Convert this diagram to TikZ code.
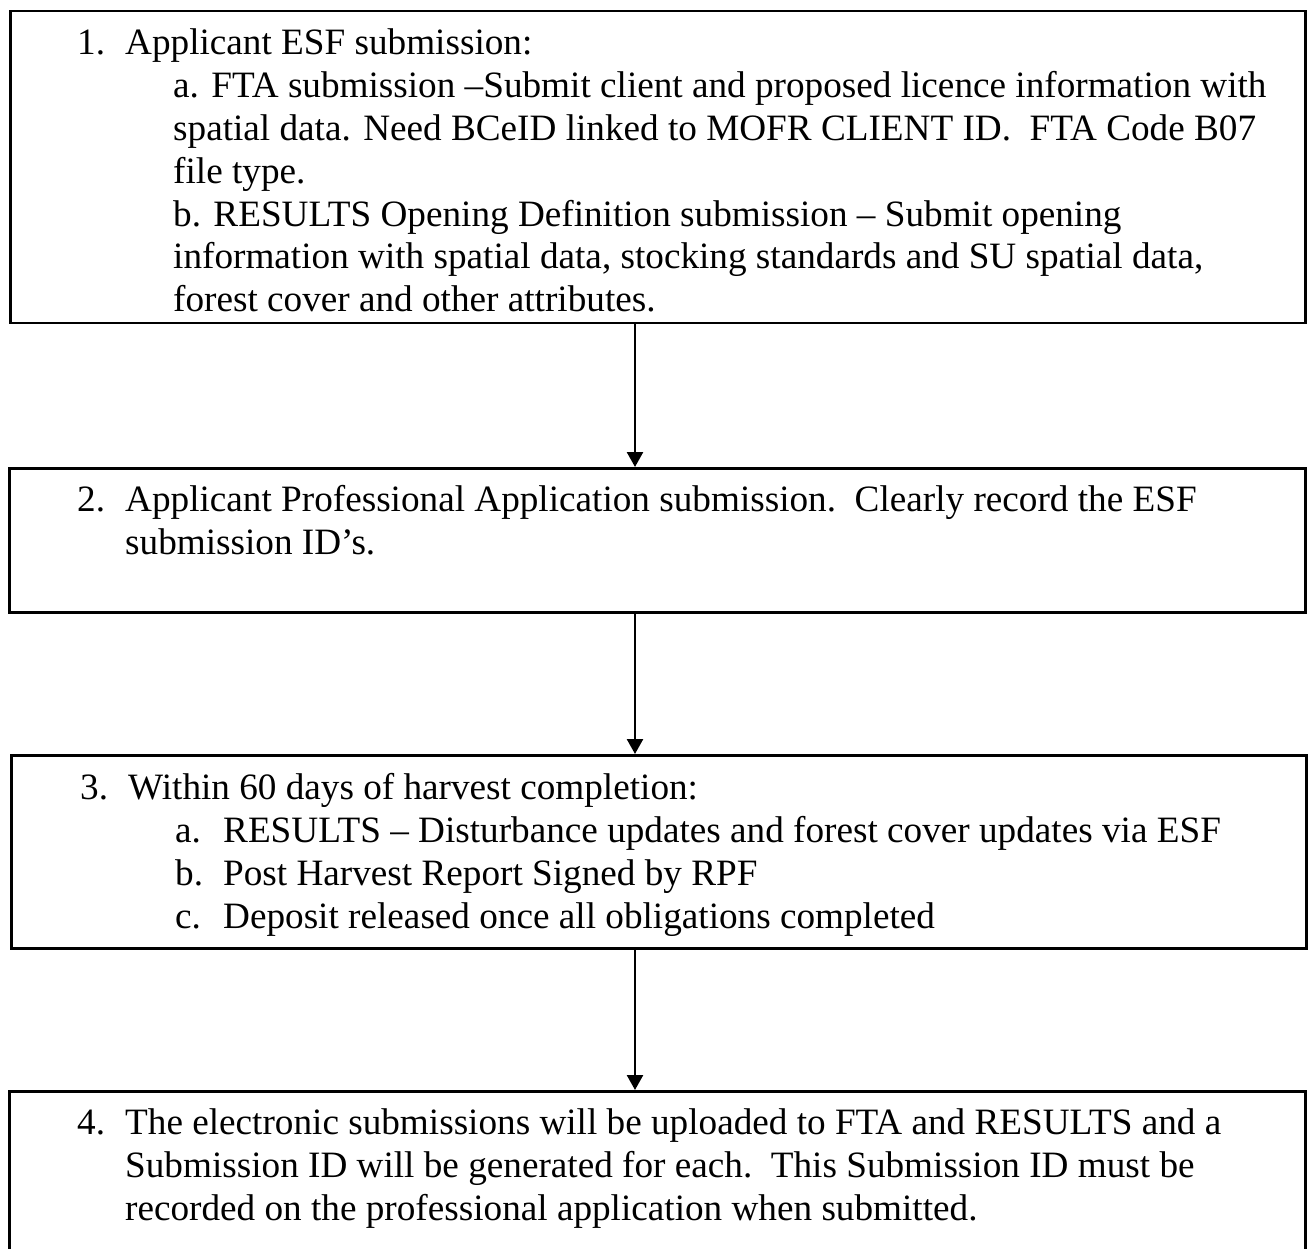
\documentclass[tikz,border=0pt]{standalone}
\usepackage{fontspec}
\setmainfont{Liberation Serif}[Ligatures={NoCommon}]
\usetikzlibrary{arrows.meta}
\tikzset{
  box/.style={draw, line width=2.5pt, inner sep=0pt, anchor=north west},
  txt/.style={anchor=base west, inner sep=0pt, font=\fontsize{37.2}{42.8}\selectfont},
  arr/.style={line width=2.5pt, -{Triangle[width=16pt,length=15pt]}},
}
\begin{document}
\begin{tikzpicture}[x=1pt,y=-1pt]
\useasboundingbox (0,0) rectangle (1310,1249);
\fill[white] (0,0) rectangle (1310,1249);
\clip (0,0) rectangle (1310,1249);
% boxes
\node[box, minimum width=1295pt, minimum height=312pt] (b1) at (9,10) {};
\node[box, minimum width=1296pt, minimum height=144pt] (b2) at (8,467) {};
\node[box, minimum width=1295pt, minimum height=193pt] (b3) at (10,754) {};
\node[box, minimum width=1296pt, minimum height=175pt] (b4) at (8,1090) {};
% arrow axis
\coordinate (ax) at (635,0);
\draw[arr] (b1.south -| ax) -- (b2.north -| ax);
\draw[arr] (b2.south -| ax) -- (b3.north -| ax);
\draw[arr] (b3.south -| ax) -- (b4.north -| ax);
% box 1 text
\node[txt] (n1) at (77,55) {1.};
\node[txt] (t1a) at (125,55) {Applicant ESF submission:};
\node[txt] (t1b) at (173,97.8) {a. FTA submission –Submit client and proposed licence information with};
\node[txt] (t1c) at (173,140.6) {spatial data. Need BCeID linked to MOFR CLIENT ID.\ \ FTA Code B07};
\node[txt] (t1d) at (173,183.4) {file type.};
\node[txt] (t1e) at (173,226.2) {b. RESULTS Opening Definition submission – Submit opening};
\node[txt] (t1f) at (173,269) {information with spatial data, stocking standards and SU spatial data,};
\node[txt] (t1g) at (173,311.8) {forest cover and other attributes.};
% box 2 text
\node[txt] (n2) at (77,511) {2.};
\node[txt] (t2a) at (125,511) {Applicant Professional Application submission.\ \ Clearly record the ESF};
\node[txt] (t2b) at (125,554) {submission ID’s.};
% box 3 text
\node[txt] (n3) at (80,799) {3.};
\node[txt] (t3a) at (128,799) {Within 60 days of harvest completion:};
\node[txt] (l3a) at (175,842) {a.};
\node[txt] (t3b) at (223,842) {RESULTS – Disturbance updates and forest cover updates via ESF};
\node[txt] (l3b) at (175,885) {b.};
\node[txt] (t3c) at (223,885) {Post Harvest Report Signed by RPF};
\node[txt] (l3c) at (175,928) {c.};
\node[txt] (t3d) at (223,928) {Deposit released once all obligations completed};
% box 4 text
\node[txt] (n4) at (77,1134) {4.};
\node[txt] (t4a) at (125,1134) {The electronic submissions will be uploaded to FTA and RESULTS and a};
\node[txt] (t4b) at (125,1177) {Submission ID will be generated for each.\ \ This Submission ID must be};
\node[txt] (t4c) at (125,1220) {recorded on the professional application when submitted.};
\end{tikzpicture}
\end{document}
